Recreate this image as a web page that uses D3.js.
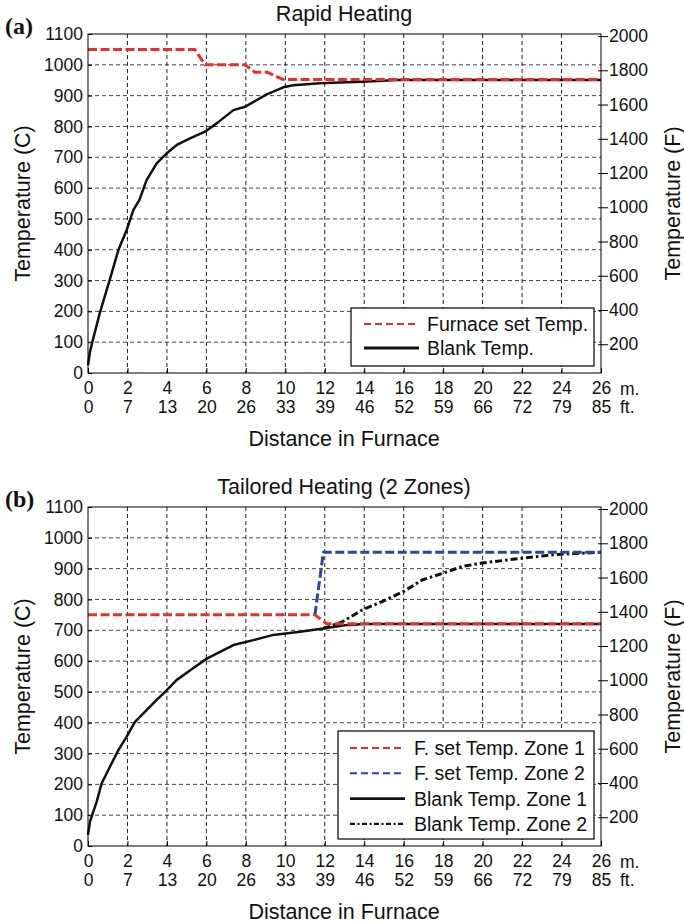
<!DOCTYPE html>
<html>
<head>
<meta charset="utf-8">
<script src="https://d3js.org/d3.v7.min.js"></script>
<style>
  html, body { margin: 0; padding: 0; background: #fff; }
  svg { display: block; font-family: "Liberation Sans", Arial, sans-serif; }
</style>
</head>
<body>
<div id="chart"></div>
<script>
// distance (m) / temperature (C) pairs
const furnaceSetA = [[0, 1050], [5.42, 1050], [5.93, 1000], [7.96, 1000], [8.46, 976], [9.07, 976], [9.9, 952], [26, 952]];
const blankA = [[0, 25], [0.1, 69], [0.27, 113], [0.6, 195], [1.1, 302], [1.54, 399], [1.96, 464], [2.3, 529], [2.6, 561],
  [2.97, 626], [3.48, 680], [3.99, 713], [4.5, 740], [5.17, 761], [5.93, 783], [6.52, 810], [7.37, 853], [7.96, 864],
  [9.06, 904], [9.9, 927], [10.4, 934], [11.76, 940], [12.4, 942], [13.9, 945], [15.7, 951], [26, 951]];

const furnaceZone1 = [[0, 750], [11.5, 750], [12.1, 721], [26, 721]];
const furnaceZone2 = [[11.5, 750], [11.93, 953], [26, 953]];
const blankZone1 = [[0, 36], [0.1, 79], [0.44, 144], [0.69, 203], [1.11, 257], [1.54, 311], [1.96, 355], [2.38, 403],
  [2.97, 441], [3.48, 474], [3.92, 501], [4.5, 539], [5.2, 571], [6.02, 608], [6.69, 630], [7.37, 652], [8.38, 668],
  [9.39, 685], [10.75, 695], [11.93, 706], [13, 716], [14, 720], [26, 720]];
const blankZone2 = [[11.93, 706], [12.87, 727], [13.9, 766], [14.9, 793], [16.0, 826], [16.93, 863], [17.98, 885],
  [18.96, 907], [19.95, 918], [20.98, 926], [22.0, 934], [23.0, 941], [23.97, 947], [26, 953]];

const xTicksM = [0, 2, 4, 6, 8, 10, 12, 14, 16, 18, 20, 22, 24, 26];
const xTicksFt = [0, 7, 13, 20, 26, 33, 39, 46, 52, 59, 66, 72, 79, 85];
const yTicksC = [0, 100, 200, 300, 400, 500, 600, 700, 800, 900, 1000, 1100];
const yTicksF = [200, 400, 600, 800, 1000, 1200, 1400, 1600, 1800, 2000];

const RED = '#e8302a', BLUE = '#2b45a0', BLACK = '#111';
const LEFT = 88, RIGHT = 601;
const cToF = c => c * 9 / 5 + 32;
const TICK_FS = 17.5, LABEL_FS = 21.5;

const svg = d3.select('#chart').append('svg')
  .attr('width', 684).attr('height', 924);

const styles = {
  furnace: { color: RED, width: 3, dash: '9,3.5', lw: 2, ldash: '7,4' },
  zone2: { color: BLUE, width: 3, dash: '9,3.5', lw: 2, ldash: '7,4' },
  blank: { color: BLACK, width: 2.5, dash: null, lw: 2.8, ldash: null },
  dashdot: { color: BLACK, width: 3, dash: '7,3,2.5,3', lw: 2.4, ldash: '5,2.5,2,2.5' }
};

function drawPanel(cfg) {
  const g = svg.append('g');
  const x = d3.scaleLinear().domain([0, 26]).range([LEFT, RIGHT]);
  const y = d3.scaleLinear().domain([0, 1100]).range([cfg.bottom, cfg.top]);
  const yF = d3.scaleLinear().domain([cToF(0), cToF(1100)]).range([cfg.bottom, cfg.top]);

  // dashed grid
  g.append('g').selectAll('line').data(yTicksC.slice(1, -1)).join('line')
    .attr('x1', LEFT).attr('x2', RIGHT)
    .attr('y1', d => y(d)).attr('y2', d => y(d))
    .attr('stroke', '#444').attr('stroke-width', 1).attr('stroke-dasharray', '4,3');
  g.append('g').selectAll('line').data(xTicksM.slice(1, -1)).join('line')
    .attr('x1', d => x(d)).attr('x2', d => x(d))
    .attr('y1', cfg.top).attr('y2', cfg.bottom)
    .attr('stroke', '#222').attr('stroke-width', 1).attr('stroke-dasharray', '4,3');

  const line = d3.line().x(d => x(d[0])).y(d => y(d[1]));
  cfg.series.forEach(s => {
    const st = styles[s.style];
    g.append('path').datum(s.data)
      .attr('d', line)
      .attr('fill', 'none')
      .attr('stroke', st.color)
      .attr('stroke-width', st.width)
      .attr('stroke-dasharray', st.dash)
      .attr('stroke-linejoin', 'round');
  });

  // frame
  g.append('rect')
    .attr('x', LEFT).attr('y', cfg.top)
    .attr('width', RIGHT - LEFT).attr('height', cfg.bottom - cfg.top)
    .attr('fill', 'none').attr('stroke', '#000').attr('stroke-width', 1);

  // axes
  const fmt = d3.format('d');
  const axL = g.append('g').attr('transform', `translate(${LEFT},0)`)
    .call(d3.axisLeft(y).tickValues(yTicksC).tickFormat(fmt).tickSize(-4).tickPadding(5));
  const axB = g.append('g').attr('transform', `translate(0,${cfg.bottom})`)
    .call(d3.axisBottom(x).tickValues(xTicksM).tickFormat(fmt).tickSize(-5).tickPadding(9));
  const axFt = g.append('g').attr('transform', `translate(0,${cfg.bottom})`)
    .call(d3.axisBottom(x).tickValues(xTicksM).tickFormat((d, i) => xTicksFt[i]).tickSize(0).tickPadding(27.6));
  const axR = g.append('g').attr('transform', `translate(${RIGHT},0)`)
    .call(d3.axisRight(yF).tickValues(yTicksF).tickFormat(fmt).tickSize(7).tickPadding(1));
  axR.selectAll('.tick').append('line').attr('x1', -3).attr('x2', 0).attr('stroke', '#000');

  [axL, axB, axFt, axR].forEach(a => {
    a.select('.domain').remove();
    a.selectAll('text').attr('font-size', TICK_FS).attr('fill', '#111')
      .attr('font-family', '"Liberation Sans", Arial, sans-serif');
    a.selectAll('line').attr('stroke', '#000');
  });

  g.append('text').attr('x', 620).attr('y', cfg.bottom + 21.5)
    .attr('font-size', TICK_FS).attr('fill', '#111').text('m.');
  g.append('text').attr('x', 620).attr('y', cfg.bottom + 40)
    .attr('font-size', TICK_FS).attr('fill', '#111').text('ft.');

  // titles and labels
  g.append('text').attr('x', 344).attr('y', cfg.top - 13)
    .attr('text-anchor', 'middle').attr('font-size', LABEL_FS).attr('fill', '#111').text(cfg.title);
  g.append('text').attr('x', 5).attr('y', cfg.top)
    .attr('font-family', '"Liberation Serif", "Times New Roman", serif')
    .attr('font-weight', 'bold').attr('font-size', 24).attr('fill', '#111').text(cfg.tag);
  g.append('text').attr('x', 344).attr('y', cfg.bottom + 72.5)
    .attr('text-anchor', 'middle').attr('font-size', LABEL_FS).attr('fill', '#111').text('Distance in Furnace');
  const yMid = (cfg.top + cfg.bottom) / 2;
  g.append('text').attr('transform', `translate(30,${yMid}) rotate(-90)`)
    .attr('text-anchor', 'middle').attr('font-size', LABEL_FS).attr('fill', '#111').text('Temperature (C)');
  g.append('text').attr('transform', `translate(680,${yMid}) rotate(-90)`)
    .attr('text-anchor', 'middle').attr('font-size', LABEL_FS).attr('fill', '#111').text('Temperature (F)');

  // legend
  const lg = cfg.legend;
  const leg = g.append('g');
  leg.append('rect')
    .attr('x', lg.x).attr('y', lg.y).attr('width', lg.w).attr('height', lg.h)
    .attr('fill', '#fff').attr('stroke', '#000').attr('stroke-width', 1.2);
  lg.items.forEach((it, i) => {
    const st = styles[it.style];
    const yy = lg.firstRow + i * lg.rowGap;
    leg.append('line')
      .attr('x1', lg.lineX).attr('x2', lg.lineX + 55)
      .attr('y1', yy).attr('y2', yy)
      .attr('stroke', st.color).attr('stroke-width', st.lw)
      .attr('stroke-dasharray', st.ldash);
    leg.append('text').attr('x', lg.textX).attr('y', yy + 7)
      .attr('font-size', 19.5).attr('fill', '#111').text(it.label);
  });
}

drawPanel({
  top: 34, bottom: 373, title: 'Rapid Heating', tag: '(a)',
  series: [
    { data: blankA, style: 'blank' },
    { data: furnaceSetA, style: 'furnace' }
  ],
  legend: {
    x: 351, y: 308, w: 243, h: 58, firstRow: 324, rowGap: 24, lineX: 364, textX: 427,
    items: [
      { label: 'Furnace set Temp.', style: 'furnace' },
      { label: 'Blank Temp.', style: 'blank' }
    ]
  }
});

drawPanel({
  top: 507, bottom: 846, title: 'Tailored Heating (2 Zones)', tag: '(b)',
  series: [
    { data: blankZone2, style: 'dashdot' },
    { data: furnaceZone2, style: 'zone2' },
    { data: blankZone1, style: 'blank' },
    { data: furnaceZone1, style: 'furnace' }
  ],
  legend: {
    x: 338, y: 731, w: 256, h: 108, firstRow: 748, rowGap: 25.3, lineX: 350, textX: 414,
    items: [
      { label: 'F. set Temp. Zone 1', style: 'furnace' },
      { label: 'F. set Temp. Zone 2', style: 'zone2' },
      { label: 'Blank Temp. Zone 1', style: 'blank' },
      { label: 'Blank Temp. Zone 2', style: 'dashdot' }
    ]
  }
});
</script>
</body>
</html>
